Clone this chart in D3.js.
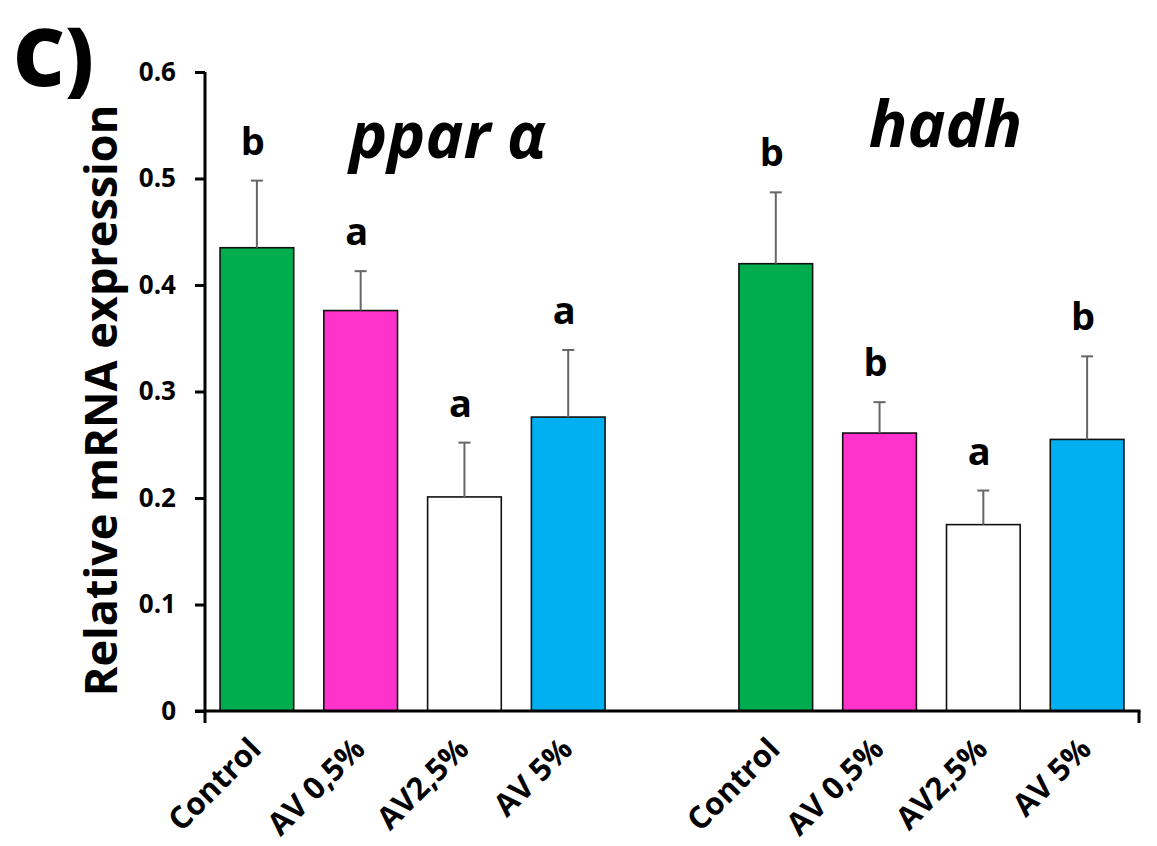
<!DOCTYPE html>
<html>
<head>
<meta charset="utf-8">
<script src="https://cdn.jsdelivr.net/npm/d3@7/dist/d3.min.js"></script>
<style>
  html, body { margin: 0; padding: 0; background: #fff; }
  svg { display: block; font-family: "Open Sans", Lato, sans-serif; }
</style>
</head>
<body>
<svg id="chart" width="1157" height="846"></svg>
<script>
// Groups (genes) and treatments
const genes = ["ppar α", "hadh"];
const treatments = ["Control", "AV 0,5%", "AV2,5%", "AV 5%"];
const treatmentColors = ["#00ad4e", "#ff33cc", "#ffffff", "#00b0f0"];

// Mean relative expression and SD, per gene, in treatment order
const pparMean = [0.435, 0.376, 0.201, 0.276];
const pparSD   = [0.063, 0.037, 0.051, 0.063];
const hadhMean = [0.420, 0.261, 0.175, 0.255];
const hadhSD   = [0.067, 0.029, 0.032, 0.078];

// Significance letters
const pparLetters = ["b", "a", "a", "a"];
const hadhLetters = ["b", "b", "a", "b"];

const yTicks = [0, 0.1, 0.2, 0.3, 0.4, 0.5, 0.6];

const svg = d3.select("#chart");
const margin = { left: 205, right: 18, top: 72, bottom: 135 };
const W = 1157, H = 846;

// Category slots: four treatments, an empty gap, four treatments
const slots = [];
const rows = [];
[pparMean, hadhMean].forEach((means, g) => {
  const sds = g === 0 ? pparSD : hadhSD;
  const letters = g === 0 ? pparLetters : hadhLetters;
  treatments.forEach((t, i) => {
    const key = g + "-" + i;
    slots.push(key);
    rows.push({ key, gene: genes[g], label: t, mean: means[i], sd: sds[i], letter: letters[i], color: treatmentColors[i] });
  });
  if (g === 0) slots.push("gap");
});

const x = d3.scaleBand().domain(slots).range([margin.left, W - margin.right]).paddingInner(0.29).paddingOuter(0.145);
const y = d3.scaleLinear().domain([0, 0.6]).range([H - margin.bottom, margin.top]);

// Bars
svg.append("g").selectAll("rect").data(rows).join("rect")
  .attr("x", d => x(d.key))
  .attr("y", d => y(d.mean))
  .attr("width", x.bandwidth())
  .attr("height", d => y(0) - y(d.mean))
  .attr("fill", d => d.color)
  .attr("stroke", "#111")
  .attr("stroke-width", 1.6);

// Error bars (upper only)
const eb = svg.append("g").attr("stroke", "#666").attr("stroke-width", 2);
rows.forEach(d => {
  const cx = x(d.key) + x.bandwidth() / 2;
  eb.append("line").attr("x1", cx).attr("x2", cx).attr("y1", y(d.mean)).attr("y2", y(d.mean + d.sd));
  eb.append("line").attr("x1", cx - 6).attr("x2", cx + 6).attr("y1", y(d.mean + d.sd)).attr("y2", y(d.mean + d.sd));
});

// Significance letters
svg.append("g").selectAll("text").data(rows).join("text")
  .attr("x", d => x(d.key) + x.bandwidth() / 2 - 4)
  .attr("y", d => y(d.mean + d.sd) - 26)
  .attr("text-anchor", "middle")
  .attr("font-size", 38)
  .attr("font-weight", 700)
  .attr("fill", "#000")
  .text(d => d.letter);

// Y axis
const yAxis = d3.axisLeft(y).tickValues(yTicks).tickSize(10).tickPadding(19)
  .tickFormat(d => d === 0 ? "0" : d3.format(".1f")(d));
const gy = svg.append("g").attr("transform", `translate(${margin.left},0)`).call(yAxis);
gy.select(".domain").attr("stroke", "#000").attr("stroke-width", 3).attr("d", `M0,${y(0.6)}H0V${y(0)}`);
gy.selectAll(".tick line").attr("stroke", "#000").attr("stroke-width", 3);
gy.selectAll(".tick text").attr("font-size", 26).attr("font-weight", 700).attr("fill", "#000")
  .attr("font-family", "'Open Sans', sans-serif");

// X axis baseline with end ticks
const x0 = margin.left, x1 = W - margin.right;
const gx = svg.append("g").attr("stroke", "#000").attr("stroke-width", 3);
gx.append("line").attr("x1", x0 - 10).attr("x2", x1 + 1.5).attr("y1", y(0)).attr("y2", y(0));
gx.append("line").attr("x1", x0).attr("x2", x0).attr("y1", y(0)).attr("y2", y(0) + 12);
gx.append("line").attr("x1", x1).attr("x2", x1).attr("y1", y(0)).attr("y2", y(0) + 12);

// Category labels, rotated
svg.append("g").selectAll("text").data(rows).join("text")
  .attr("transform", d => `translate(${x(d.key) + x.bandwidth() / 2 + 6},${y(0) + 40}) rotate(-45)`)
  .attr("text-anchor", "end")
  .attr("font-size", 31)
  .attr("font-weight", 700)
  .attr("fill", "#000")
  .text(d => d.label);

// Gene titles
const groupCenter = g => {
  const k0 = g + "-0", k3 = g + "-3";
  return (x(k0) + x(k3) + x.bandwidth()) / 2;
};
svg.append("text").attr("x", groupCenter(0) + 35).attr("y", 158)
  .attr("text-anchor", "middle").attr("font-size", 64).attr("font-weight", 700)
  .attr("font-style", "italic").text(genes[0]);
svg.append("text").attr("x", groupCenter(1) + 14).attr("y", 147)
  .attr("text-anchor", "middle").attr("font-size", 64).attr("font-weight", 700)
  .attr("font-style", "italic").text(genes[1]);

// Y axis title
svg.append("text")
  .attr("transform", `translate(117,${(y(0) + y(0.6)) / 2 + 9}) rotate(-90)`)
  .attr("text-anchor", "middle")
  .attr("font-size", 45).attr("font-weight", 700)
  .text("Relative mRNA expression");

// Panel letter
svg.append("text").attr("x", 13).attr("y", 86)
  .attr("font-size", 80).attr("font-weight", 800)
  .text("C)");
</script>
</body>
</html>
